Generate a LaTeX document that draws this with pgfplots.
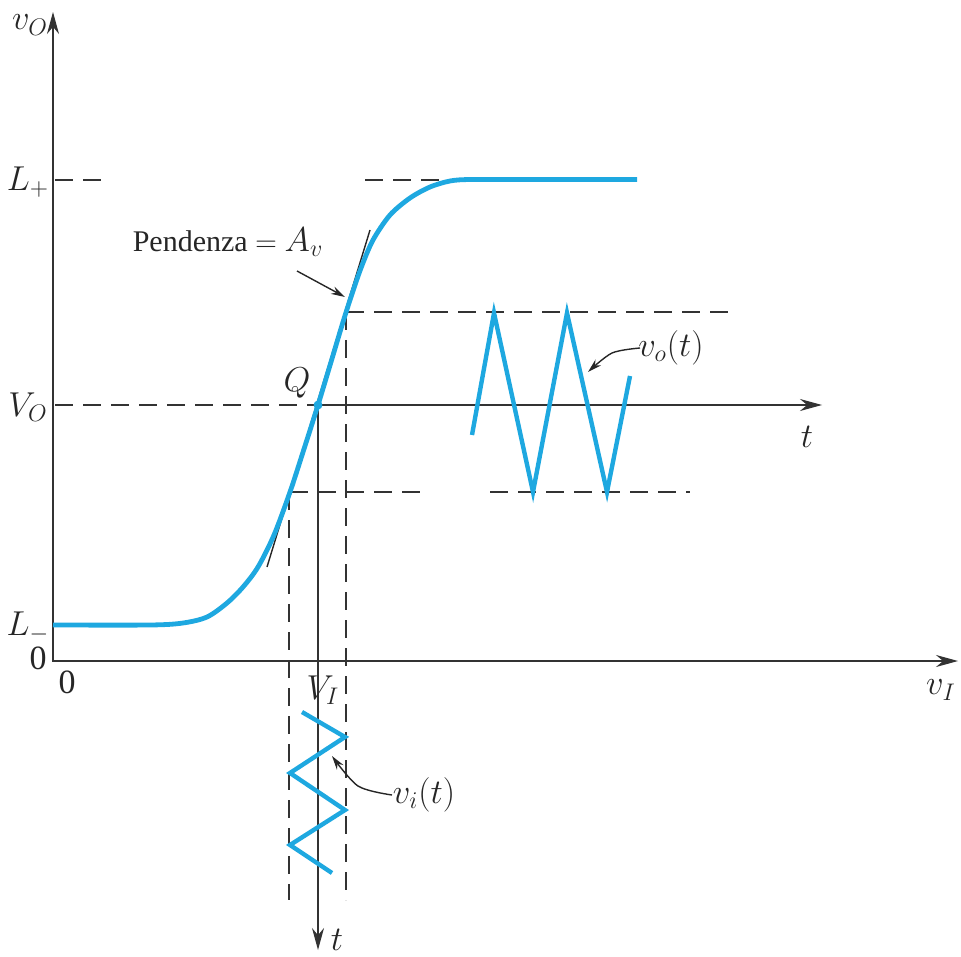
\documentclass[border=0pt]{standalone}
\usepackage{pgfplots}
\pgfplotsset{compat=1.18}
\usetikzlibrary{arrows.meta}
\usepackage{fontspec}
\setmainfont{Liberation Serif}
\definecolor{cy}{RGB}{30,168,224}
\newcommand\lf{\fontsize{17}{20}\selectfont}
\newcommand\tf{\fontsize{15}{18}\selectfont}
\begin{document}
\begin{tikzpicture}[every node/.style={text=black!85, inner sep=0pt}]
\begin{axis}[scale only axis, width=480.5pt, height=478pt,
  xmin=0, xmax=961, ymin=0, ymax=956, y dir=reverse,
  hide axis, clip=false]
\draw[draw=none] (rel axis cs:0,0) rectangle (rel axis cs:1,1);
% dashed guides
\pgfplotsset{dsh/.style={black!80, line width=0.8pt, dash pattern=on 9pt off 5pt}}
\addplot[dsh] coordinates {(55,180)(105,180)};
\addplot[dsh] coordinates {(365,180)(460,180)};
\addplot[dsh] coordinates {(55,405)(316,405)};
\addplot[dsh] coordinates {(346,312)(735,312)};
\addplot[dsh] coordinates {(290,492)(428,492)};
\addplot[dsh] coordinates {(490,492)(690,492)};
\addplot[dsh] coordinates {(289,492)(289,900)};
\addplot[dsh] coordinates {(346,312)(346,900)};
% solid axes
\addplot[black!80, line width=0.9pt, -{Stealth[length=11pt,width=6pt]}] coordinates {(53,661)(53,12)};
\addplot[black!80, line width=0.9pt, -{Stealth[length=11pt,width=6pt]}] coordinates {(52,661)(958,661)};
\addplot[black!80, line width=0.8pt, -{Stealth[length=11pt,width=6pt]}] coordinates {(316,405)(822,405)};
\addplot[black!80, line width=0.8pt, -{Stealth[length=11pt,width=6pt]}] coordinates {(318,405)(318,950)};
% tangent
\addplot[black!85, line width=0.7pt] coordinates {(267,567)(370,230)};
% transfer curve
\addplot[cy, line width=2.4pt, smooth, tension=0.5] coordinates {
(53,625)(150,625)(183,623)(207,617)(227,603)(243,587)(258,567)(274,535)(290,492)(304,449)(318,405)(331,362)(343,322)(351,297)(361,268)(373,240)(390,215)(410,198)(430,187)(450,181)(470,179.5)(520,179.5)(637,179.5)};
% Q point
\addplot[cy, only marks, mark=*, mark size=2pt] coordinates {(318,405)};
% output wave
\addplot[cy, line width=2.2pt] coordinates {(472,435)(494,313)(533,492)(567,313)(607,492)(630,376)};
% input wave
\addplot[cy, line width=2.2pt] coordinates {(302,712)(345,737)(290,773)(345,810)(290,845)(332,873)};
% annotation arrows
\addplot[black!85, line width=0.7pt, -{Stealth[length=7pt,width=4pt]}] coordinates {(297,271)(345,297)};
\addplot[black!85, line width=0.7pt, smooth, -{Stealth[length=7pt,width=4pt]}] coordinates {(640,348)(612,353)(588,372)};
\addplot[black!85, line width=0.7pt, smooth, -{Stealth[length=7pt,width=4pt]}] coordinates {(392,795)(358,786)(332,756)};
% labels
\node at (axis cs:30,25) {\lf$v_O$};
\node at (axis cs:28,182) {\lf$L_+$};
\node at (axis cs:28,407) {\lf$V_O$};
\node at (axis cs:28,627) {\lf$L_-$};
\node at (axis cs:38,658) {\lf 0};
\node at (axis cs:67,682) {\lf 0};
\node at (axis cs:323,690) {\lf$V_I$};
\node at (axis cs:297,383) {\lf$Q$};
\node at (axis cs:228,242) {\tf Pendenza $=$ \lf$A_v$};
\node at (axis cs:671,348) {\lf$v_o(t)$};
\node at (axis cs:424,795) {\lf$v_i(t)$};
\node at (axis cs:941,690) {\lf$v_I$};
\node at (axis cs:807,437) {\lf$t$};
\node at (axis cs:337,940) {\lf$t$};
\end{axis}
\end{tikzpicture}
\end{document}
